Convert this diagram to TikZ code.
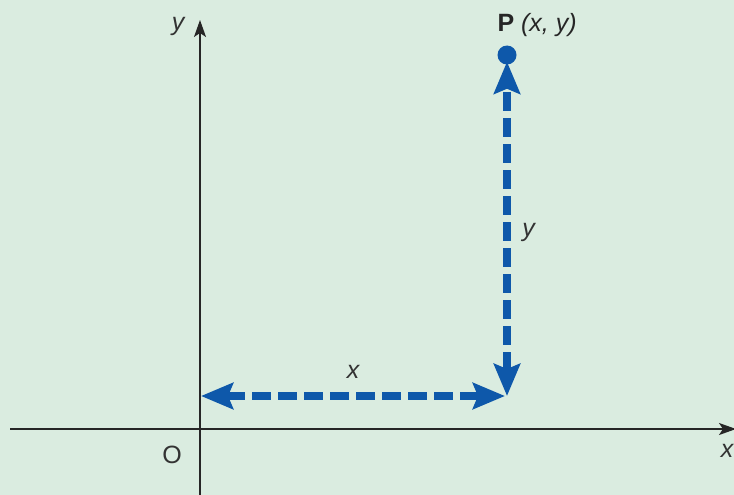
\documentclass[tikz,border=0pt]{standalone}
\usepackage{fontspec}
\setmainfont{Liberation Sans}
\usetikzlibrary{arrows.meta}
\definecolor{bggreen}{RGB}{218,236,224}
\definecolor{ptblue}{RGB}{14,88,170}
\tikzset{
  axis/.style={line width=1.5pt,black!85,-{Stealth[length=17pt,width=12pt,inset=4pt]}},
  dasharrow/.style={ptblue,line width=8pt,dash pattern=on 19pt off 7pt,
    {Stealth[length=32pt,width=26pt,inset=5pt]}-{Stealth[length=32pt,width=26pt,inset=5pt]}},
  lbl/.style={font=\fontsize{25}{28}\selectfont\itshape,text=black!80}
}

\begin{document}
\begin{tikzpicture}[x=1pt,y=-1pt,>=Latex]
  % background
  \fill[bggreen] (0,0) rectangle (734,495);
  \useasboundingbox (0,0) rectangle (734,495);
  % axes
  \coordinate (xstart) at (10,429);
  \coordinate (xend) at (736,429);
  \coordinate (ystart) at (200,495);
  \coordinate (yend) at (200,20);
  \draw[axis] (xstart) -- (xend);
  \draw[axis] (ystart) -- (yend);
  \node[lbl] (ylab) at (178,26) {y};
  \node[lbl] (xlab) at (727,451) {x};
  \node[font=\fontsize{25}{28}\selectfont,text=black!80] (O) at (172,455) {O};
  % point P
  \node[circle,fill=ptblue,minimum size=19pt,inner sep=0pt] (P) at (507,55) {};
  \node[font=\fontsize{25}{28}\selectfont,text=black!85,anchor=base west] (Plab) at (494,32)
    {\textbf{P} \itshape(x, y)};
  % corner below P
  \coordinate (foot) at (507,396);
  \coordinate (left) at (201,396);
  % distances
  \draw[dasharrow] (foot) -- ([yshift=3pt]P.south)
    node[lbl,midway,right=8pt,yshift=-4pt] (ylen) {y};
  \draw[dasharrow] (left) -- ([xshift=-2pt]foot)
    node[lbl,midway,above=10pt] (xlen) {x};
\end{tikzpicture}
\end{document}
